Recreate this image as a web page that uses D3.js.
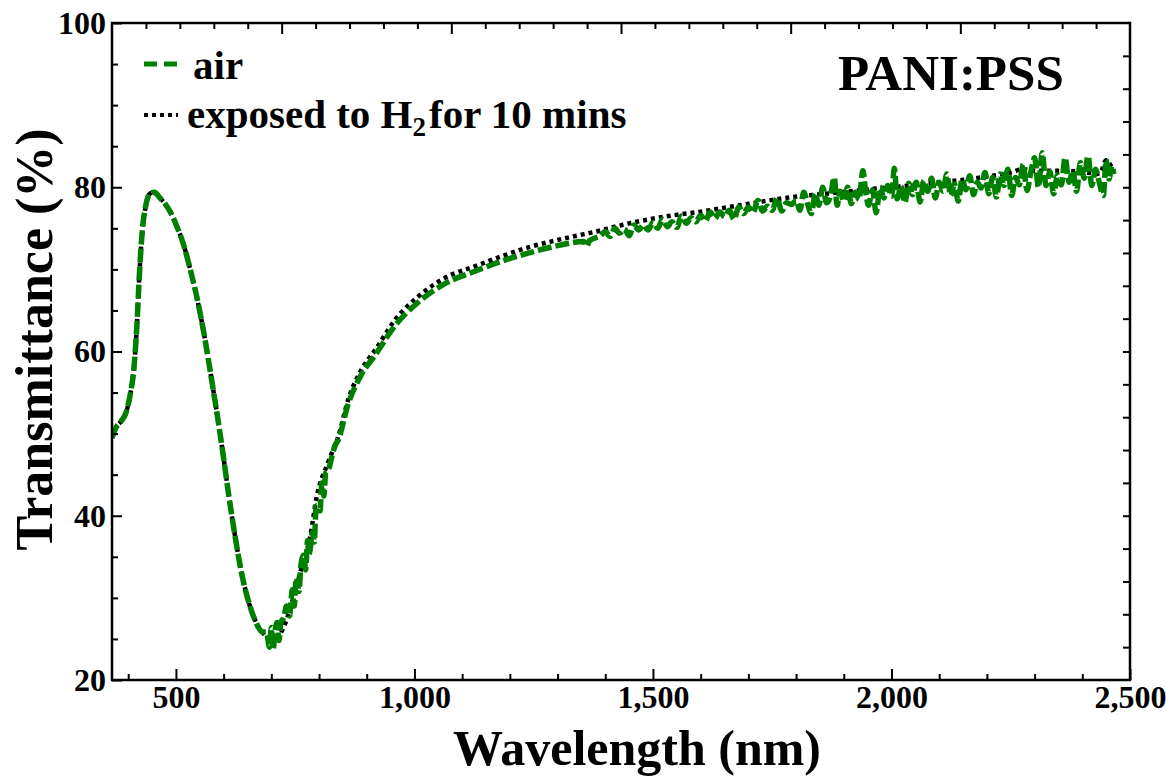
<!DOCTYPE html>
<html>
<head>
<meta charset="utf-8">
<script src="https://cdn.jsdelivr.net/npm/d3@7"></script>
<style>
  body { margin: 0; background: #fff; }
  text { font-family: "Liberation Serif", "Times New Roman", serif; font-weight: bold; fill: #000; }
</style>
</head>
<body>
<svg id="chart" width="1166" height="778"></svg>
<script>
// tick labels on the drawn axes
let xMajorTicks = [500, 1000, 1500, 2000, 2500]
let yMajorTicks = [20, 40, 60, 80, 100]

// exposed to H2 for 10 mins (black dotted), [wavelength nm, transmittance %]
let h2Data = [
    [366, 49.5], [375, 50.8], [385, 51.5], [395, 52.5], [405, 55], [412, 58], [418, 63], [424, 70],
    [430, 75], [437, 77.8], [445, 79.2], [455, 79.4], [465, 78.8], [477, 78], [490, 76.8], [500, 75.5],
    [515, 73.2], [530, 70], [545, 66.3], [560, 61.8], [575, 56.5], [590, 51], [600, 47], [610, 42.8],
    [624, 37.5], [637, 33.2], [651, 29.8], [665, 27.4], [680, 25.9], [693, 25.2], [705, 25.1], [718, 25.6],
    [730, 27], [746, 30], [763, 33.6], [782, 37.6], [794, 42], [819, 46.5], [840, 49.6], [861, 54.1],
    [889, 57.8], [918, 60.2], [960, 63.9], [1008, 66.7], [1065, 69], [1128, 70.4], [1183, 71.6], [1240, 72.7],
    [1309, 73.7], [1380, 74.6], [1435, 75.4], [1492, 76.1], [1545, 76.6], [1597, 77], [1650, 77.5], [1702, 78],
    [1755, 78.5], [1807, 78.9], [1860, 79.2], [1912, 79.5], [1960, 79.8], [2002, 80], [2050, 80.3], [2100, 80.6],
    [2150, 80.9], [2200, 81.3], [2250, 81.8], [2275, 82.2], [2300, 82], [2350, 82], [2400, 81.9], [2430, 81.6],
    [2440, 82], [2450, 83.3], [2458, 82.8], [2466, 82]
]

// air (green dashed), noisy around the minimum and in the NIR
let airData = [
    [366, 49.5], [375, 50.8], [385, 51.5], [395, 52.5], [405, 55], [412, 58], [418, 63], [424, 70],
    [430, 75], [437, 77.8], [445, 79.2], [455, 79.4], [465, 78.8], [477, 78], [490, 76.8], [500, 75.5],
    [515, 73.2], [530, 70], [545, 66.3], [560, 61.8], [575, 56.5], [590, 51], [600, 47], [610, 42.8],
    [624, 37.5], [637, 33.2], [651, 29.8], [665, 27.4], [680, 25.9],
    [690, 25.8], [696, 24], [700, 26.4], [704, 23.8], [708, 26], [712, 27], [716, 24.8], [720, 27],
    [726, 27.6], [732, 29], [738, 27.8], [744, 31], [748, 29], [752, 32.4], [758, 30.8], [762, 34],
    [768, 35.2], [772, 33.4], [776, 37], [780, 35.4], [786, 38], [790, 36.8], [794, 41.2], [798, 41],
    [802, 40.6], [806, 44], [810, 42.4], [814, 45.2], [820, 45.6], [826, 47], [834, 48.6],
    [840, 49.2], [861, 53.6], [889, 57.2], [918, 59.6], [960, 63.2], [1008, 66], [1065, 68.3], [1128, 69.8],
    [1183, 71], [1240, 72], [1309, 73], [1355, 73.4], [1361, 72.8], [1367, 73.5], [1390, 74.1],
    [1400, 74.6], [1410, 74], [1420, 75], [1430, 74.4], [1440, 74.9], [1450, 74.1], [1460, 75.4], [1470, 74.8],
    [1480, 75.4], [1490, 74.8], [1500, 75.7], [1510, 75], [1520, 76.1], [1530, 75.2], [1540, 75.8], [1550, 75.1],
    [1560, 76.5], [1570, 75.6], [1580, 76.3], [1590, 75.8], [1600, 76.6], [1610, 75.9], [1620, 77], [1630, 76.2],
    [1640, 77], [1650, 76.4], [1660, 77.2], [1670, 76.1], [1680, 77.6], [1690, 76.8], [1700, 77.6], [1710, 76.9],
    [1720, 78.4], [1730, 77.1], [1740, 77.7], [1750, 77.2], [1760, 78.7], [1770, 77.1], [1780, 78.1], [1790, 77.9],
    [1800, 78.4], [1808, 77.2], [1816, 79.4], [1824, 78], [1832, 76.8], [1840, 79.2], [1848, 77.8], [1856, 80],
    [1864, 78.1], [1872, 78.9], [1880, 81.2], [1886, 77.8], [1892, 79.5], [1900, 78.3], [1908, 80], [1916, 78],
    [1924, 79.4], [1932, 78.5], [1940, 82], [1946, 79.4], [1952, 77.8], [1960, 79.7], [1968, 76.9], [1976, 80],
    [1984, 78.7], [1992, 80.2], [2000, 78.9], [2006, 82.3], [2012, 78.6], [2020, 80.1], [2028, 78.1], [2036, 80.5],
    [2044, 79.1], [2052, 80.6], [2060, 78.2], [2068, 80.8], [2076, 79.5], [2084, 81.1], [2092, 78.7], [2100, 80.6],
    [2108, 79.5], [2116, 81.6], [2124, 79], [2132, 80.4], [2140, 78.3], [2148, 81], [2156, 79.7], [2164, 81.4],
    [2172, 79.1], [2180, 80.6], [2188, 79.9], [2196, 81.8], [2204, 79.2], [2212, 81.2], [2220, 78.8], [2228, 81.6],
    [2236, 80.2], [2244, 82.2], [2252, 79], [2260, 81.2], [2268, 80.3], [2276, 82.8], [2284, 79.6], [2292, 81.8],
    [2300, 83.6], [2308, 80], [2316, 84.2], [2324, 80.2], [2332, 81.9], [2340, 79.2], [2348, 81.5], [2356, 80.3],
    [2364, 83.6], [2372, 80.6], [2380, 82], [2388, 79.5], [2396, 83], [2404, 81.1], [2412, 83.8], [2420, 80.2],
    [2428, 82.2], [2436, 80.5], [2444, 79], [2450, 83.3], [2456, 81], [2462, 82.6], [2466, 81.6]
]

let box = { left: 112, right: 1130, top: 23, bottom: 680 }
let svg = d3.select("#chart")

let x = d3.scaleLinear().domain([366, 2500]).range([box.left, box.right])
let y = d3.scaleLinear().domain([20, 100]).range([box.bottom, box.top])
// the top and right axes carry their own unlabelled tick spacing
let xTop = d3.scaleLinear().domain([0, 30]).range([box.left, box.right])

svg.append("clipPath").attr("id", "plotClip")
    .append("rect")
    .attr("x", box.left).attr("y", box.top)
    .attr("width", box.right - box.left).attr("height", box.bottom - box.top)

let line = d3.line()
    .x(d => x(d[0]))
    .y(d => y(d[1]))
    .curve(d3.curveMonotoneX)

let plot = svg.append("g").attr("clip-path", "url(#plotClip)")
plot.append("path")
    .datum(h2Data)
    .attr("d", line)
    .attr("fill", "none")
    .attr("stroke", "#000")
    .attr("stroke-width", 4.5)
    .attr("stroke-dasharray", "4,4")
plot.append("path")
    .datum(airData)
    .attr("d", line)
    .attr("fill", "none")
    .attr("stroke", "#008000")
    .attr("stroke-width", 5.5)
    .attr("stroke-dasharray", "14,4")

// axes, ticks point inward
let styleAxis = (g) => {
    g.select(".domain").remove()
    g.selectAll(".tick line").attr("stroke", "#000").attr("stroke-width", 2)
    g.selectAll("text").attr("font-size", 32).attr("fill", "#000")
}
let xMinor = d3.range(400, 2500, 100).filter(v => v % 500 != 0)
svg.append("g").attr("transform", `translate(0,${box.bottom})`)
    .call(d3.axisBottom(x).tickValues(xMinor).tickSize(-6).tickFormat(""))
    .call(styleAxis)
svg.append("g").attr("transform", `translate(0,${box.bottom})`)
    .call(d3.axisBottom(x).tickValues(xMajorTicks).tickSize(-11).tickPadding(5).tickFormat(d3.format(",")))
    .call(styleAxis)

let yMinor = d3.range(25, 100, 5).filter(v => v % 20 != 0)
svg.append("g").attr("transform", `translate(${box.left},0)`)
    .call(d3.axisLeft(y).tickValues(yMinor).tickSize(-6).tickFormat(""))
    .call(styleAxis)
svg.append("g").attr("transform", `translate(${box.left},0)`)
    .call(d3.axisLeft(y).tickValues(yMajorTicks).tickSize(-10).tickPadding(6))
    .call(styleAxis)

svg.append("g").attr("transform", `translate(0,${box.top})`)
    .call(d3.axisTop(xTop).tickValues(d3.range(1, 30).filter(v => v % 5 != 0)).tickSize(-6).tickFormat(""))
    .call(styleAxis)
svg.append("g").attr("transform", `translate(0,${box.top})`)
    .call(d3.axisTop(xTop).tickValues([5, 10, 15, 20, 25]).tickSize(-11).tickFormat(""))
    .call(styleAxis)
svg.append("g").attr("transform", `translate(${box.right},0)`)
    .call(d3.axisRight(y).tickValues(d3.range(24, 100, 4)).tickSize(-7).tickFormat(""))
    .call(styleAxis)

// frame
svg.append("rect")
    .attr("x", box.left).attr("y", box.top)
    .attr("width", box.right - box.left).attr("height", box.bottom - box.top)
    .attr("fill", "none").attr("stroke", "#000").attr("stroke-width", 2.5)

// axis titles
svg.append("text")
    .attr("x", (box.left + box.right) / 2 + 16).attr("y", 765)
    .attr("text-anchor", "middle").attr("font-size", 50)
    .text("Wavelength (nm)")
svg.append("text")
    .attr("transform", `translate(52,${(box.top + box.bottom) / 2 - 12}) rotate(-90)`)
    .attr("text-anchor", "middle").attr("font-size", 52)
    .text("Transmittance (%)")

svg.append("text")
    .attr("x", 838).attr("y", 90).attr("font-size", 51)
    .text("PANI:PSS")

// legend
let legend = svg.append("g")
legend.append("line")
    .attr("x1", 144).attr("x2", 178).attr("y1", 64).attr("y2", 64)
    .attr("stroke", "#008000").attr("stroke-width", 5).attr("stroke-dasharray", "13,7")
legend.append("text").attr("x", 193).attr("y", 79).attr("font-size", 41).text("air")
legend.append("line")
    .attr("x1", 144).attr("x2", 178).attr("y1", 115).attr("y2", 115)
    .attr("stroke", "#000").attr("stroke-width", 4).attr("stroke-dasharray", "4,4")
let lt = legend.append("text").attr("x", 187).attr("y", 128).attr("font-size", 41)
lt.append("tspan").text("exposed to H")
lt.append("tspan").attr("font-size", 27).attr("dy", 8).text("2")
lt.append("tspan").attr("dy", -8).attr("dx", 3).text("for 10 mins")
</script>
</body>
</html>
